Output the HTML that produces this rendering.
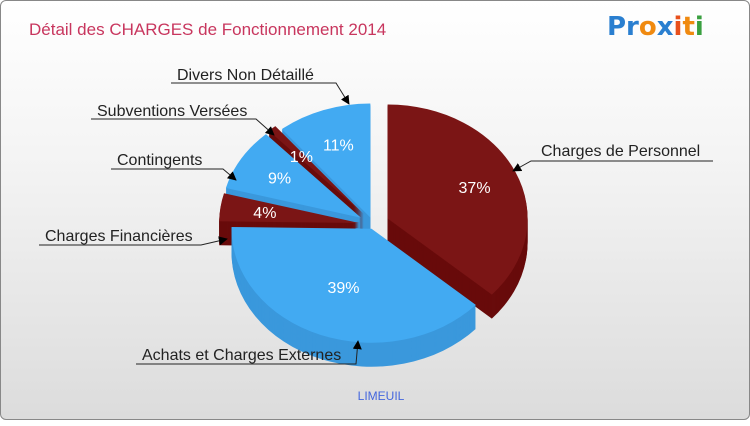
<!DOCTYPE html>
<html><head><meta charset="utf-8"><style>
body{margin:0;width:750px;height:420px;overflow:hidden;font-family:"Liberation Sans",sans-serif}
#c{position:absolute;left:0;top:0;width:748px;height:418px;border:1px solid #888;border-radius:6px;background:linear-gradient(#ffffff,#f3f3f3 40%,#dcdcdc)}
</style></head><body>
<div id="c">
<svg id="s" width="750" height="420" xmlns="http://www.w3.org/2000/svg">
<defs><marker id="ar" viewBox="0 0 10 10" refX="9" refY="5" markerWidth="9" markerHeight="9" orient="auto"><path d="M0,0L10,5L0,10z" fill="#000"/></marker></defs>
<text x="28" y="34" font-size="17" fill="#C8365E">Détail des CHARGES de Fonctionnement 2014</text>
<text x="606" y="34" font-size="26" font-weight="bold" font-family="DejaVu Sans"><tspan fill="#2a7fd0">Pr</tspan><tspan fill="#f08a10">o</tspan><tspan fill="#2a7fd0">x</tspan><tspan fill="#e8501c">i</tspan><tspan fill="#f08a10">t</tspan><tspan fill="#3aa040">i</tspan></text>
<text x="380" y="399" font-size="12" fill="#4466dd" text-anchor="middle">LIMEUIL</text>
<g id="pie"></g><g id="lab"></g>
</svg></div>
<script>
const categories=["Charges de Personnel","Achats et Charges Externes","Charges Financières","Contingents","Subventions Versées","Divers Non Détaillé"];
const values=[37,39,4,9,1,11];
const labels=["37%","39%","4%","9%","1%","11%"];
const tops=["#7B1515","#42AAF2","#7B1515","#42AAF2","#7B1515","#42AAF2"];
const sides=["#680B0B","#3A98DC","#680B0B","#3A98DC","#680B0B","#3A98DC"];
const explode=[16,4,14,14,14,8];
const labelPos=[[540,155,"start",512,170,530,160,712],[141,359,"start",357,340,355,363,135],[44,240,"start",226,238,200,244,38],[116,164,"start",235,179,222,168,110],[96,115,"start",273,134,255,118,90],[176,79,"start",348,103,335,82,170]];
const NS="http://www.w3.org/2000/svg";
const cx=372,cy=224,rx=140,ry=114,depth=24;
const total=values.reduce((a,b)=>a+b,0);
const pie=document.getElementById('pie'),lab=document.getElementById('lab');
function pt(a,r,ox,oy,dy){return [ox+r*rx*Math.cos(a),oy+r*ry*Math.sin(a)+dy];}
function sector(a0,a1,ox,oy,dy){const p0=pt(a0,1,ox,oy,dy),p1=pt(a1,1,ox,oy,dy);const large=(a1-a0)>Math.PI?1:0;
return `M${ox},${oy+dy}L${p0[0]},${p0[1]}A${rx},${ry} 0 ${large} 1 ${p1[0]},${p1[1]}Z`;}
let a=-Math.PI/2;const sl=[];
values.forEach((v,i)=>{const a1=a+v/total*2*Math.PI;const m=(a+a1)/2;sl.push({i,a0:a,a1,m,ox:cx+explode[i]*Math.cos(m),oy:cy+explode[i]*Math.sin(m)});a=a1;});
const order=sl.slice().sort((p,q)=>Math.sin(p.m)-Math.sin(q.m));
order.forEach(s=>{
 const g=document.createElementNS(NS,'g');
 
 
 for(let d=depth;d>0;d-=1){const p=document.createElementNS(NS,'path');p.setAttribute('d',sector(s.a0,s.a1,s.ox,s.oy,d));p.setAttribute('fill',sides[s.i]);g.appendChild(p);}
 const t=document.createElementNS(NS,'path');t.setAttribute('d',sector(s.a0,s.a1,s.ox,s.oy,0));t.setAttribute('fill',tops[s.i]);g.appendChild(t);
 pie.appendChild(g);
});
sl.forEach(s=>{
 const r=s.i==1?0.55:0.68;const p=pt(s.m,r,s.ox,s.oy,0);
 const t=document.createElementNS(NS,'text');t.setAttribute('x',p[0]);t.setAttribute('y',p[1]+6);t.setAttribute('text-anchor','middle');t.setAttribute('font-size','16');t.setAttribute('fill','#fff');t.textContent=labels[s.i];
 
 
 lab.appendChild(t);
 const L=labelPos[s.i];
 const tx=document.createElementNS(NS,'text');tx.setAttribute('x',L[0]);tx.setAttribute('y',L[1]);tx.setAttribute('font-size','16');tx.setAttribute('fill','#222');tx.textContent=categories[s.i];
 
 
 lab.appendChild(tx);
 const pl=document.createElementNS(NS,'polyline');pl.setAttribute('points',`${L[7]},${L[6]} ${L[5]},${L[6]} ${L[3]},${L[4]}`);pl.setAttribute('fill','none');pl.setAttribute('stroke','#222');pl.setAttribute('stroke-width','1');pl.setAttribute('marker-end','url(#ar)');
 
 
 lab.appendChild(pl);
});
</script>
</body></html>
